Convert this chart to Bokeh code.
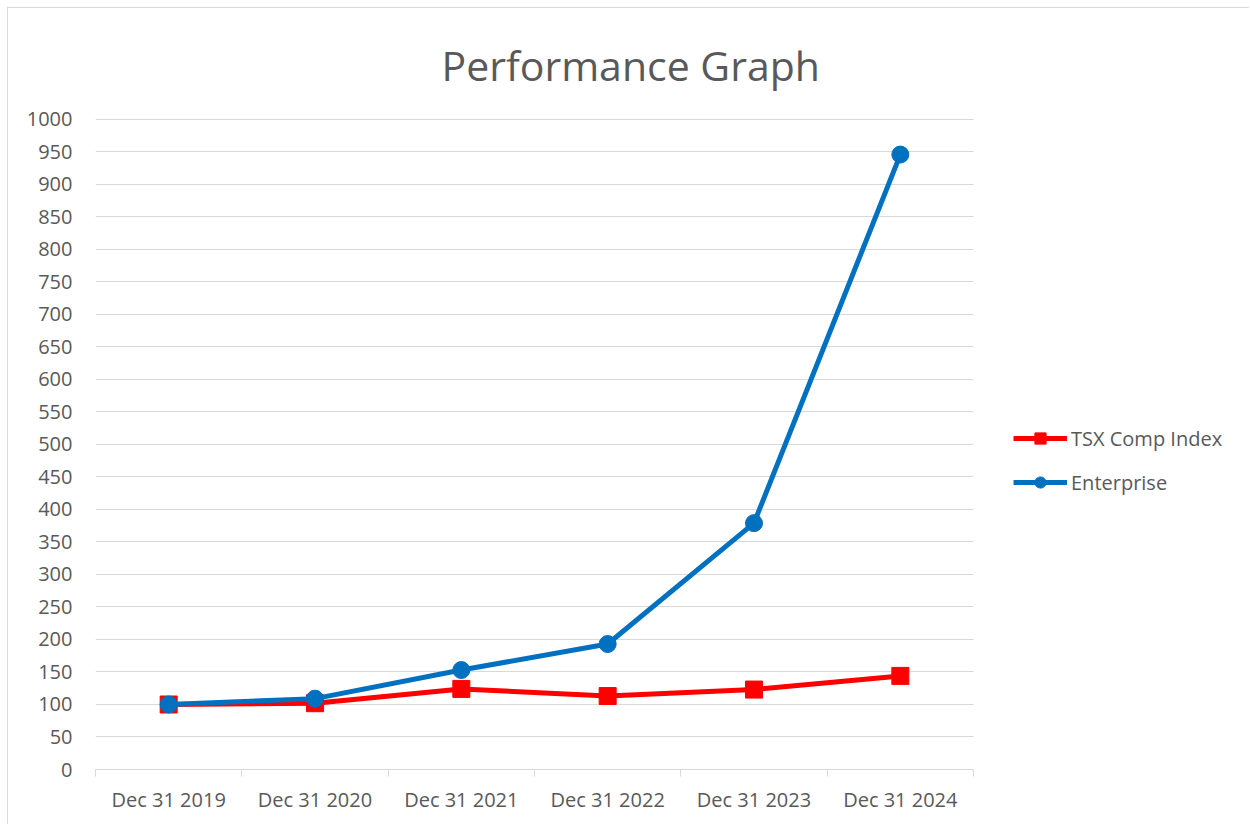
from bokeh.plotting import figure
from bokeh.models import Range1d, FixedTicker, Legend, LegendItem
from bokeh.embed import file_html
from bokeh.resources import INLINE

dates = ["Dec 31 2019", "Dec 31 2020", "Dec 31 2021", "Dec 31 2022", "Dec 31 2023", "Dec 31 2024"]
tsx = [100, 102, 124, 113, 123, 144]
enterprise = [100, 109, 153, 193, 379, 946]
y_ticks = list(range(0, 1001, 50))

FONT = "Open Sans"
GRAY = "#595959"
GRID = "#d9d9d9"

n = len(dates)
xs = [i + 0.5 for i in range(n)]

# layout: plot area 878 px wide, frame extends to the right edge to host the legend
FIG_W, LEFT = 1242, 87
frame_w = FIG_W - LEFT
x_end = n * frame_w / 878.0

p = figure(width=FIG_W, height=817, output_backend="svg", toolbar_location=None,
           x_range=Range1d(0, x_end), y_range=Range1d(0, 1001.5),
           min_border_left=LEFT, min_border_right=0, min_border_top=40, min_border_bottom=56)
p.styles = {"margin-left": "7px", "margin-top": "7px",
            "border-left": "1px solid #d9d9d9", "border-top": "1px solid #d9d9d9"}
p.outline_line_color = None
p.background_fill_color = "white"
p.border_fill_color = "white"

p.title.text = "Performance Graph"
p.title.text_font = FONT
p.title.text_font_size = "41px"
p.title.text_font_style = "normal"
p.title.text_color = GRAY
p.title.align = "left"
p.title.offset = 346
p.title.standoff = 52

# x axis
xa = p.xaxis[0]
xa.bounds = (0, n)
xa.ticker = FixedTicker(ticks=xs, minor_ticks=list(range(n + 1)))
xa.major_label_overrides = {x: d for x, d in zip(xs, dates)}
xa.major_tick_line_color = None
xa.minor_tick_line_color = GRID
xa.minor_tick_out = 7
xa.minor_tick_in = 0
xa.axis_line_color = GRID
xa.axis_line_width = 1
xa.major_label_text_font = FONT
xa.major_label_text_font_size = "20px"
xa.major_label_text_color = GRAY
xa.major_label_standoff = 9
p.xgrid.grid_line_color = None

# y axis
ya = p.yaxis[0]
ya.ticker = FixedTicker(ticks=y_ticks)
ya.axis_line_color = None
ya.major_tick_line_color = None
ya.minor_tick_line_color = None
ya.major_tick_out = 0
ya.major_label_text_font = FONT
ya.major_label_text_font_size = "20px"
ya.major_label_text_color = GRAY
ya.major_label_standoff = 23
p.ygrid.ticker = FixedTicker(ticks=y_ticks)
p.ygrid.grid_line_color = GRID
p.ygrid.grid_line_width = 1
p.ygrid.cross_bounds = (0, n)

RED = "#ff0000"
BLUE = "#0070c0"

l1 = p.line(xs, tsx, line_color=RED, line_width=5)
s1 = p.scatter(xs, tsx, marker="square", size=17, fill_color=RED, line_color=RED)
l2 = p.line(xs, enterprise, line_color=BLUE, line_width=5)
s2 = p.scatter(xs, enterprise, marker="circle", size=17, fill_color=BLUE, line_color=BLUE)

legend = Legend(items=[LegendItem(label="TSX Comp Index", renderers=[l1, s1]),
                       LegendItem(label="Enterprise", renderers=[l2, s2])],
                location=(918, 273), orientation="vertical",
                glyph_width=54, glyph_height=28, spacing=16, padding=0, margin=0,
                label_standoff=4, label_text_font=FONT, label_text_font_size="20px",
                label_text_color=GRAY, border_line_color=None, background_fill_alpha=0)
p.add_layout(legend, "center")

open("out.html", "w").write(file_html(p, INLINE))
